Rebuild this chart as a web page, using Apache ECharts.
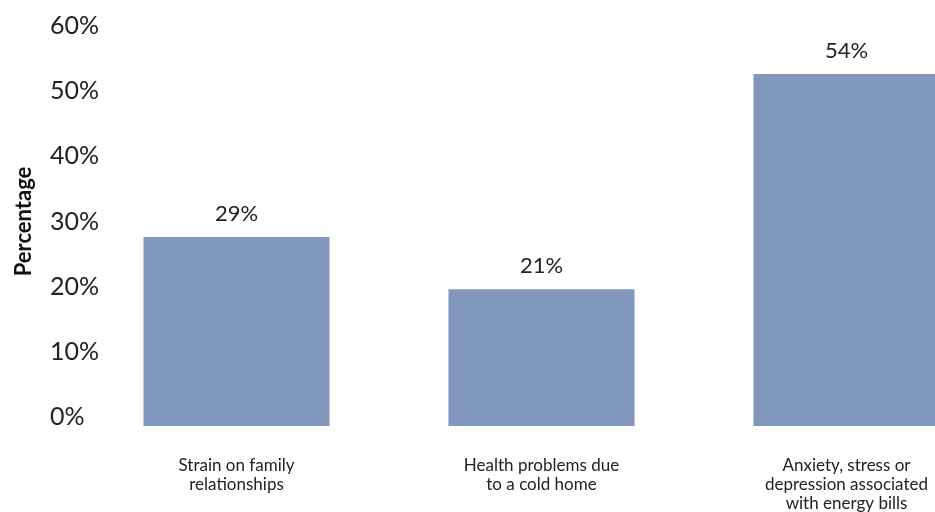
<!DOCTYPE html>
<html>
<head>
<meta charset="utf-8">
<script src="https://cdn.jsdelivr.net/npm/echarts@6/dist/echarts.min.js"></script>
<style>
  html, body { margin: 0; padding: 0; background: #ffffff; }
  #chart { width: 935px; height: 512px; }
</style>
</head>
<body>
<div id="chart"></div>
<script>
// Impacts reported by households, share of respondents
const categories = [
  'Strain on family\nrelationships',
  'Health problems due\nto a cold home',
  'Anxiety, stress or\ndepression associated\nwith energy bills'
];
const values = [29, 21, 54];
const yTicks = [0, 10, 20, 30, 40, 50, 60];

const FONT = 'Lato, "Open Sans", sans-serif';
const TEXT = '#222222';

const chart = echarts.init(document.getElementById('chart'), null, { renderer: 'canvas' });

chart.setOption({
  animation: false,
  backgroundColor: '#ffffff',
  // plot area runs past the right edge so the last bar is cut off
  grid: {
    left: 84, width: 915, top: 35, height: 391,
    containLabel: false,
    outerBoundsMode: 'none'
  },
  xAxis: {
    type: 'category',
    data: categories,
    axisLine: { show: false },
    axisTick: { show: false },
    axisLabel: {
      interval: 0,
      margin: 30,
      fontFamily: FONT,
      fontSize: 17,
      lineHeight: 19,
      color: TEXT,
      verticalAlign: 'top'
    }
  },
  yAxis: {
    type: 'value',
    min: yTicks[0],
    max: yTicks[yTicks.length - 1],
    interval: 10,
    name: 'Percentage',
    nameLocation: 'middle',
    nameGap: 49,
    nameRotate: 90,
    nameTextStyle: {
      fontFamily: FONT,
      fontSize: 22,
      fontWeight: 'bold',
      color: '#111111',
      padding: [0, 0, 0, 18]
    },
    splitLine: { show: false },
    axisLine: { show: false },
    axisTick: { show: false },
    axisLabel: {
      align: 'left',
      verticalAlign: 'bottom',
      margin: 34,
      lineHeight: 18,
      fontFamily: FONT,
      fontSize: 25,
      color: TEXT,
      formatter: v => v + '%'
    }
  },
  series: [{
    type: 'bar',
    data: values,
    barWidth: '61%',
    itemStyle: { color: '#8297BE' },
    label: {
      show: true,
      position: 'top',
      distance: 12,
      fontFamily: FONT,
      fontSize: 22,
      color: TEXT,
      formatter: p => p.value + '%'
    }
  }]
});
</script>
</body>
</html>
